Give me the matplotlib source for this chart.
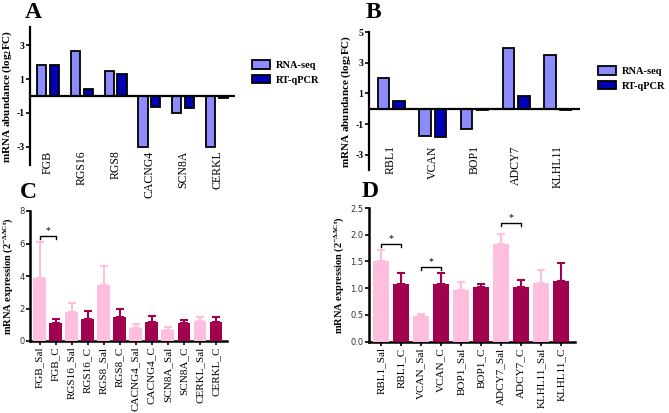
import numpy as np
import matplotlib.pyplot as plt

# panel A / B : log2FC
genes_a = ['FGB', 'RGS16', 'RGS8', 'CACNG4', 'SCN8A', 'CERKL']
rnaseq_a = [1.8, 2.65, 1.5, -3.0, -1.0, -3.0]
qpcr_a = [1.8, 0.42, 1.27, -0.65, -0.72, -0.1]

genes_b = ['RBL1', 'VCAN', 'BOP1', 'ADCY7', 'KLHL11']
rnaseq_b = [2.02, -1.78, -1.3, 3.97, 3.5]
qpcr_b = [0.5, -1.85, -0.1, 0.82, -0.1]

# panel C / D : 2^-ddCt, mean and upper error
labels_c = ['FGB_Sal', 'FGB_C', 'RGS16_Sal', 'RGS16_C', 'RGS8_Sal', 'RGS8_C',
            'CACNG4_Sal', 'CACNG4_C', 'SCN8A_Sal', 'SCN8A_C', 'CERKL_Sal', 'CERKL_C']
mean_c = [3.86, 1.13, 1.8, 1.37, 3.45, 1.47, 0.82, 1.19, 0.7, 1.12, 1.23, 1.19]
err_c = [2.21, 0.2, 0.52, 0.48, 1.18, 0.48, 0.2, 0.33, 0.18, 0.15, 0.27, 0.28]
sig_c = [(0, 1, 6.45)]

labels_d = ['RBL1_Sal', 'RBL1_C', 'VCAN_Sal', 'VCAN_C', 'BOP1_Sal', 'BOP1_C',
            'ADCY7_Sal', 'ADCY7_C', 'KLHL11_Sal', 'KLHL11_C']
mean_d = [1.5, 1.07, 0.48, 1.07, 0.96, 1.02, 1.82, 1.03, 1.09, 1.14]
err_d = [0.21, 0.21, 0.04, 0.22, 0.16, 0.05, 0.2, 0.12, 0.25, 0.34]
sig_d = [(0, 1, 1.83), (2, 3, 1.40), (6, 7, 2.22)]

W, H = 669, 413
SERIF = 'Liberation Serif'
c_rna, c_qpcr = '#8c8cff', '#0000b4'
c_sal, c_ctl = '#ffbede', '#a0004e'

plt.rcParams['mathtext.fontset'] = 'custom'
plt.rcParams['mathtext.rm'] = SERIF
plt.rcParams['mathtext.bf'] = SERIF + ':bold'
plt.rcParams['mathtext.it'] = SERIF + ':italic'


def box(l, t, r, b):
    return [l / W, 1 - b / H, (r - l) / W, (b - t) / H]


fig = plt.figure(figsize=(W / 100, H / 100), dpi=100)


def fc_panel(rect, genes, rna, qpcr, ylim, yticks, lab_y, leg_xy):
    ax = fig.add_axes(box(*rect))
    x = np.arange(len(genes))
    ax.bar(x - 0.19, rna, 0.27, color=c_rna, edgecolor='black', lw=1.3,
           label='RNA-seq', zorder=3)
    ax.bar(x + 0.19, qpcr, 0.27, color=c_qpcr, edgecolor='black', lw=1.3,
           label='RT-qPCR', zorder=3)
    ax.axhline(0, color='black', lw=1.6, zorder=4)
    for s in ['top', 'right', 'bottom']:
        ax.spines[s].set_visible(False)
    ax.spines['left'].set_linewidth(1.6)
    ax.set_ylim(*ylim)
    ax.set_xlim(-0.53, len(genes) - 0.47)
    ax.set_yticks(yticks)
    ax.set_yticklabels([str(t) for t in yticks], family=SERIF,
                       fontweight='bold', fontsize=7)
    ax.tick_params(axis='y', length=3, width=1.2, pad=1)
    ax.set_xticks([])
    for i, g in enumerate(genes):
        ax.text(i, lab_y, g, rotation=90, ha='center', va='top',
                family=SERIF, fontsize=8.5, clip_on=False)
    ax.set_ylabel('mRNA abundance (log$_\\mathbf{2}$FC)', family=SERIF,
                  fontweight='bold', fontsize=8, labelpad=2)
    ax.legend(loc='upper left', bbox_to_anchor=(leg_xy[0] / W, 1 - leg_xy[1] / H),
              bbox_transform=fig.transFigure, frameon=False,
              prop={'family': SERIF, 'weight': 'bold', 'size': 7.5},
              handlelength=1.7, handleheight=0.9, handletextpad=0.6,
              labelspacing=0.45, borderpad=0)
    return ax


def expr_panel(rect, labels, mean, err, ylim, yticks, fmt, sig, ylab):
    ax = fig.add_axes(box(*rect))
    x = np.arange(len(labels))
    cols = [c_sal if i % 2 == 0 else c_ctl for i in x]
    ax.bar(x, mean, 0.78, color=cols, zorder=3)
    for i in x:
        ax.errorbar(i, mean[i], yerr=[[0], [err[i]]], color=cols[i], lw=1.5,
                    capsize=3, capthick=1.5, zorder=2)
    for a, b, h in sig:
        dh = (ylim[1] - ylim[0]) * 0.02
        ax.plot([a, a, b, b], [h - dh, h, h, h - dh], color='black', lw=1)
        ax.text((a + b) / 2, h + dh * 0.3, '*', ha='center', va='bottom',
                fontsize=7, family=SERIF)
    for s in ['top', 'right']:
        ax.spines[s].set_visible(False)
    ax.spines['left'].set_linewidth(1.8)
    ax.spines['bottom'].set_linewidth(1.8)
    ax.set_ylim(*ylim)
    ax.set_xlim(-0.6, len(labels) - 0.3)
    ax.set_yticks(yticks)
    ax.set_yticklabels([fmt.format(t) for t in yticks], fontsize=6, color='#333333')
    ax.set_xticks(x)
    ax.set_xticklabels(labels, rotation=90, family=SERIF, fontsize=8)
    ax.tick_params(axis='both', length=3, width=1.2, pad=1)
    ax.set_ylabel(ylab, family=SERIF, fontweight='bold', fontsize=7.5, labelpad=3)
    return ax


fc_panel((30, 27, 235, 165), genes_a, rnaseq_a, qpcr_a, (-4.06, 4.06),
         [-3, -1, 1, 3], -3.2, (247, 55))
fc_panel((369, 32, 580, 170), genes_b, rnaseq_b, qpcr_b, (-4, 5),
         [-3, -1, 1, 3, 5], -2.4, (593, 61))

ylab = 'mRNA expression (2$^{\\mathbf{-\\Delta\\Delta Ct}}$)'
expr_panel((30, 211, 227, 341), labels_c, mean_c, err_c, (0, 8), [0, 2, 4, 6, 8],
           '{:g}', sig_c, ylab)
expr_panel((369, 208, 575, 341.7), labels_d, mean_d, err_d, (0, 2.5),
           [0, 0.5, 1.0, 1.5, 2.0, 2.5], '{:.1f}', sig_d, ylab)

for t, px, py in [('A', 25, 18), ('B', 366, 18), ('C', 20, 198), ('D', 362, 197)]:
    fig.text(px / W, 1 - py / H, t, family=SERIF, fontweight='bold', fontsize=17,
             va='baseline')

fig.savefig('out.png', dpi=100)
